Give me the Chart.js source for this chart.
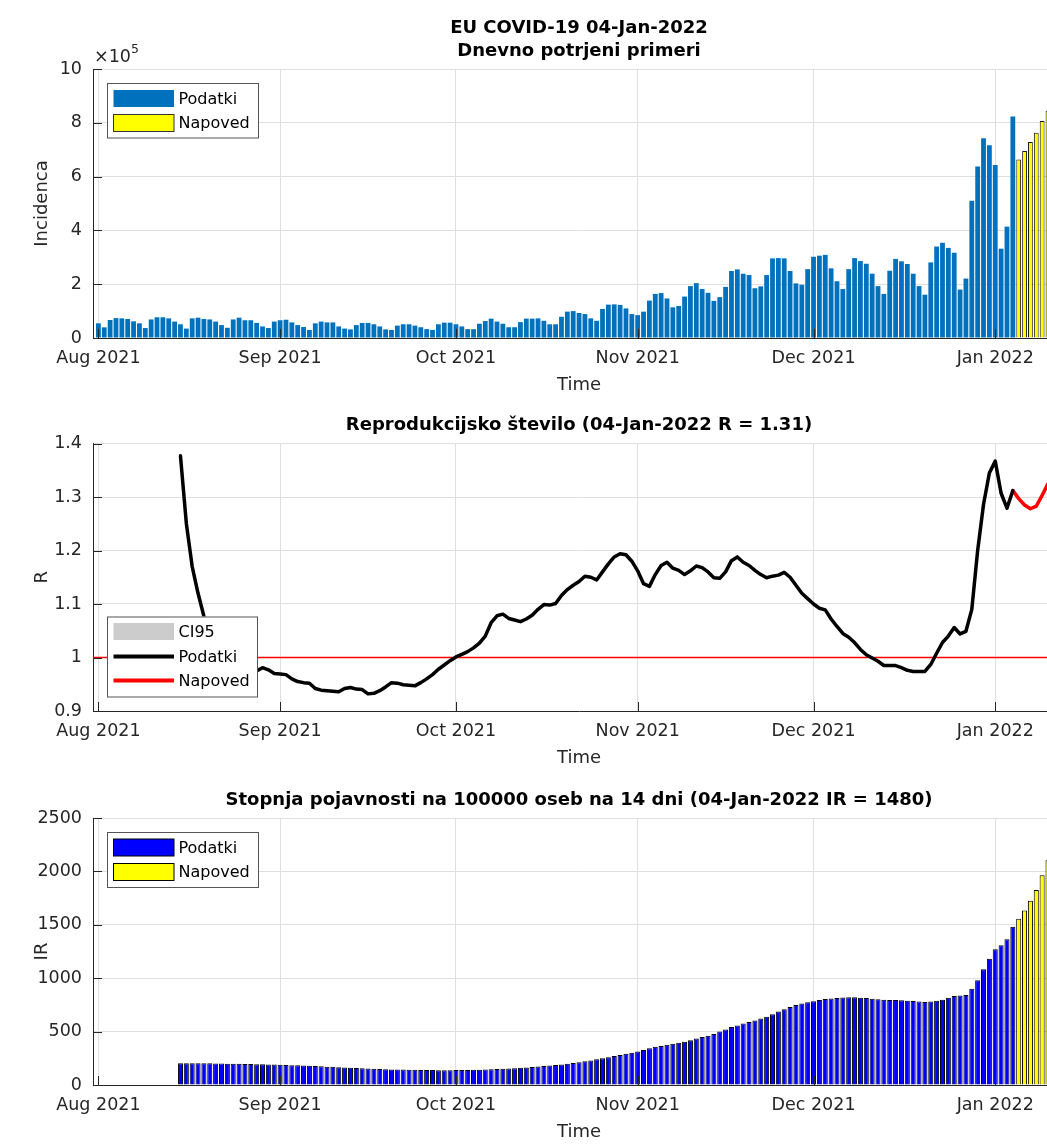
<!DOCTYPE html>
<html>
<head>
<meta charset="utf-8">
<script src="https://cdn.jsdelivr.net/npm/chart.js@4.4.1/dist/chart.umd.min.js"></script>
<style>
  html, body { margin: 0; padding: 0; background: #fff; overflow: hidden; }
  body { width: 1047px; height: 1146px; position: relative; }
  canvas { position: absolute; left: 0; display: block; }
</style>
</head>
<body>
<canvas id="casesChart" width="1065" height="395" style="top:0"></canvas>
<canvas id="rChart" width="1065" height="375" style="top:395px"></canvas>
<canvas id="irChart" width="1065" height="376" style="top:770px"></canvas>
<script>
// x axis is "days since 1 Aug 2021"
const monthTicks = [0, 31, 61, 92, 122, 153];
const monthLabels = ['Aug 2021', 'Sep 2021', 'Oct 2021', 'Nov 2021', 'Dec 2021', 'Jan 2022'];
const dayMin = -0.92;
const dayMax = 164.9;

// daily confirmed cases, 1 Aug 2021 .. 4 Jan 2022
const casesStart = 0;
const cases = [
  54500, 39600, 67000, 74000, 73000, 70600, 62000, 54500, 37000, 69000,
  77000, 77000, 73000, 61000, 51000, 35000, 73000, 75600, 70600, 69000,
  61000, 48000, 38000, 69000, 75600, 66000, 66000, 56000, 43000, 37000,
  61000, 66000, 68000, 58000, 48000, 41000, 30000, 54500, 61000, 58000,
  58000, 43000, 35000, 32000, 48000, 56000, 56000, 51000, 43000, 32000,
  30000, 46000, 51000, 51000, 46000, 40000, 33000, 30000, 51000, 57000,
  57000, 51000, 43000, 33000, 33000, 53000, 63000, 72000, 61000, 53000,
  40000, 40000, 59000, 72000, 72000, 73000, 64000, 51000, 51000, 79000,
  98000, 100000, 93000, 89000, 73000, 64000, 108000, 124000, 125000, 123000,
  110000, 89000, 85000, 98000, 139000, 164000, 167000, 147000, 114000, 119000,
  154000, 193000, 204000, 182000, 168000, 138000, 152000, 190000, 249000, 255000,
  239000, 234000, 185000, 192000, 234000, 296000, 297000, 296000, 249000, 203000,
  198000, 256000, 302000, 306000, 309000, 259000, 211000, 182000, 256000, 297000,
  286000, 276000, 239000, 193000, 164000, 250000, 294000, 285000, 275000, 239000,
  193000, 161000, 281000, 340000, 354000, 335000, 317000, 180000, 221000, 510000,
  638000, 743000, 717000, 643000, 332000, 414000, 823000
];
const casesForecastStart = 157;
const casesForecast = [664000, 695000, 729000, 763000, 807000, 845000, 880000, 915000];

// reproduction number R, from 15 Aug 2021
const rStart = 14;
const rValues = [
  1.377, 1.251, 1.170, 1.120, 1.077, 1.045, 1.020, 1.005, 0.995, 0.988,
  0.984, 0.981, 0.979, 0.975, 0.981, 0.977, 0.970, 0.969, 0.968, 0.960,
  0.955, 0.953, 0.952, 0.942, 0.939, 0.938, 0.937, 0.936, 0.942, 0.944,
  0.941, 0.940, 0.932, 0.933, 0.938, 0.945, 0.953, 0.952, 0.949, 0.948,
  0.947, 0.953, 0.960, 0.968, 0.978, 0.986, 0.994, 1.001, 1.006, 1.011,
  1.018, 1.027, 1.040, 1.065, 1.078, 1.081, 1.073, 1.070, 1.067, 1.072,
  1.079, 1.090, 1.099, 1.098, 1.101, 1.116, 1.127, 1.135, 1.142, 1.152,
  1.150, 1.145, 1.160, 1.175, 1.188, 1.194, 1.192, 1.180, 1.162, 1.138,
  1.133, 1.155, 1.172, 1.178, 1.167, 1.163, 1.155, 1.162, 1.171, 1.168,
  1.160, 1.149, 1.148, 1.160, 1.181, 1.188, 1.178, 1.172, 1.163, 1.155,
  1.149, 1.152, 1.154, 1.159, 1.150, 1.135, 1.120, 1.110, 1.100, 1.092,
  1.089, 1.072, 1.058, 1.045, 1.038, 1.028, 1.015, 1.005, 0.999, 0.993,
  0.985, 0.985, 0.985, 0.981, 0.976, 0.974, 0.974, 0.974, 0.987, 1.008,
  1.028, 1.040, 1.056, 1.044, 1.049, 1.090, 1.200, 1.286, 1.345, 1.367,
  1.307, 1.279, 1.312
];
const rForecastStart = 156;
const rForecast = [1.312, 1.297, 1.285, 1.278, 1.283, 1.303, 1.325, 1.342, 1.356];
const rThreshold = 1;

// 14-day incidence per 100000, from 15 Aug 2021
const irStart = 14;
const irValues = [
  203, 204, 204, 204, 203, 203, 202, 201, 200, 199,
  198, 197, 196, 195, 194, 193, 192, 190, 188, 186,
  184, 182, 180, 178, 175, 172, 170, 167, 165, 162,
  159, 157, 155, 152, 150, 148, 146, 145, 144, 143,
  142, 141, 140, 140, 139, 139, 139, 140, 140, 141,
  142, 143, 145, 147, 149, 152, 155, 158, 161, 165,
  169, 173, 177, 182, 187, 193, 200,
  207, 214, 222, 230, 240, 250, 261, 272, 282, 292,
  303, 314, 328, 345, 357, 366, 377, 387, 396, 406,
  418, 435, 450, 462, 478, 500, 520, 542, 558, 575,
  590, 604, 622, 640, 662, 688, 710, 730, 748, 762,
  774, 784, 795, 806, 811, 815, 819, 821, 821, 818,
  814, 808, 803, 799, 797, 796, 793, 789, 786, 782,
  778, 782, 790, 798, 818, 833, 838, 842, 902, 980,
  1083, 1183, 1270, 1308, 1364, 1482
];
const irForecastStart = 157;
const irForecast = [1557, 1635, 1726, 1826, 1963, 2104, 2230, 2350];

const toPoints = (arr, start) => arr.map((v, i) => ({ x: start + i, y: v }));

const axisColor = '#262626';
const gridColor = '#dfdfdf';
const tickFont = { family: 'DejaVu Sans', size: 17.5 };

function timeAxis(h) {
  return {
    type: 'linear', min: dayMin, max: dayMax, offset: false,
    afterBuildTicks: s => { s.ticks = monthTicks.map(v => ({ value: v })); },
    afterFit: s => { s.height = h; },
    grid: { color: gridColor, drawTicks: false, offset: false },
    border: { color: axisColor },
    ticks: {
      font: tickFont, color: axisColor, padding: 9.5, maxRotation: 0, autoSkip: false,
      callback: v => monthLabels[monthTicks.indexOf(v)]
    }
  };
}

function valueAxis(min, max, step, fmt) {
  return {
    type: 'linear', min: min, max: max,
    afterFit: s => { s.width = 93; },
    grid: { color: gridColor, drawTicks: false },
    border: { color: axisColor },
    ticks: { stepSize: step, font: tickFont, color: axisColor, padding: 11, callback: fmt }
  };
}

// MATLAB-like decorations: inward ticks, titles, axis labels, boxed legend
const decoPlugin = {
  id: 'deco',
  afterDraw(chart, args, o) {
    const ctx = chart.ctx, a = chart.chartArea;
    const xs = chart.scales.x, ys = chart.scales.y;
    ctx.save();
    ctx.strokeStyle = axisColor;
    ctx.lineWidth = 1;
    ctx.beginPath();
    xs.ticks.forEach(t => {
      const px = Math.round(xs.getPixelForValue(t.value)) + 0.5;
      ctx.moveTo(px, a.bottom); ctx.lineTo(px, a.bottom - 9);
    });
    ys.ticks.forEach(t => {
      const py = Math.round(ys.getPixelForValue(t.value)) + 0.5;
      ctx.moveTo(a.left, py); ctx.lineTo(a.left + 9, py);
    });
    ctx.stroke();

    const cx = (a.left + a.right) / 2;
    ctx.textAlign = 'center';
    ctx.textBaseline = 'middle';
    ctx.fillStyle = '#000';
    ctx.font = 'bold 18px "DejaVu Sans"';
    o.titles.forEach(t => ctx.fillText(t.text, cx, t.y));

    ctx.fillStyle = axisColor;
    ctx.font = '18px "DejaVu Sans"';
    ctx.fillText('Time', cx, a.bottom + 47);
    ctx.save();
    ctx.translate(42, (a.top + a.bottom) / 2);
    ctx.rotate(-Math.PI / 2);
    ctx.fillText(o.yLabel, 0, 0);
    ctx.restore();

    if (o.exponent) {
      ctx.textAlign = 'left';
      ctx.font = '17.5px "DejaVu Sans"';
      ctx.fillText('\u00d710', a.left + 1, a.top - 12);
      const w = ctx.measureText('\u00d710').width;
      ctx.font = '12.5px "DejaVu Sans"';
      ctx.fillText('5', a.left + 1 + w, a.top - 19);
    }

    const L = o.legend;
    ctx.fillStyle = '#fff';
    ctx.fillRect(L.x, L.y, L.w, L.h);
    ctx.strokeStyle = '#555';
    ctx.strokeRect(L.x + 0.5, L.y + 0.5, L.w, L.h);
    L.items.forEach(it => {
      if (it.kind === 'box') {
        ctx.fillStyle = it.fill;
        ctx.fillRect(L.x + 6.5, it.y - 8.5, 60.5, 17);
        if (it.edge) {
          ctx.strokeStyle = it.edge;
          ctx.strokeRect(L.x + 6.5, it.y - 8.5, 60.5, 17);
        }
      } else {
        ctx.strokeStyle = it.fill;
        ctx.lineWidth = 4;
        ctx.beginPath();
        ctx.moveTo(L.x + 6.5, it.y); ctx.lineTo(L.x + 67, it.y);
        ctx.stroke();
        ctx.lineWidth = 1;
      }
      ctx.fillStyle = '#000';
      ctx.textAlign = 'left';
      ctx.font = '16px "DejaVu Sans"';
      ctx.fillText(it.text, L.x + 71.5, it.y + 1);
    });
    ctx.restore();
  }
};

const common = {
  responsive: false,
  animation: false,
  plugins: { legend: { display: false }, tooltip: { enabled: false } }
};

new Chart(document.getElementById('casesChart'), {
  type: 'bar',
  data: {
    datasets: [
      { label: 'Podatki', data: toPoints(cases, casesStart), backgroundColor: '#0072BD',
        borderWidth: 0, grouped: false, barPercentage: 0.82, categoryPercentage: 1 },
      { label: 'Napoved', data: toPoints(casesForecast, casesForecastStart), backgroundColor: '#FFFF00',
        borderColor: '#1a1a1a', borderWidth: 1, grouped: false, barPercentage: 0.82, categoryPercentage: 1 }
    ]
  },
  options: Object.assign({}, common, {
    layout: { padding: { top: 69, left: 0, right: 0, bottom: 0 } },
    scales: {
      x: timeAxis(57),
      y: valueAxis(0, 1000000, 200000, v => String(v / 100000))
    },
    plugins: Object.assign({}, common.plugins, {
      deco: {
        titles: [{ text: 'EU COVID-19 04-Jan-2022', y: 28 }, { text: 'Dnevno potrjeni primeri', y: 51.5 }],
        yLabel: 'Incidenca',
        exponent: true,
        legend: { x: 107, y: 83, w: 151, h: 54.5, items: [
          { kind: 'box', fill: '#0072BD', text: 'Podatki', y: 98.5 },
          { kind: 'box', fill: '#FFFF00', edge: '#333', text: 'Napoved', y: 123 }
        ] }
      }
    })
  }),
  plugins: [decoPlugin]
});

new Chart(document.getElementById('rChart'), {
  type: 'line',
  data: {
    datasets: [
      { label: 'Podatki', data: toPoints(rValues, rStart), borderColor: '#000000', borderWidth: 3.5,
        pointRadius: 0, borderJoinStyle: 'round', borderCapStyle: 'round', order: 1 },
      { label: 'Napoved', data: toPoints(rForecast, rForecastStart), borderColor: '#FF0000', borderWidth: 3.5,
        pointRadius: 0, borderJoinStyle: 'round', borderCapStyle: 'round', order: 2 },
      { label: 'R = 1', data: [{ x: dayMin, y: rThreshold }, { x: dayMax, y: rThreshold }],
        borderColor: 'rgb(255, 0, 0)', backgroundColor: 'rgb(255, 0, 0)', borderWidth: 1.4,
        pointRadius: 0, order: 3 }
    ]
  },
  options: Object.assign({}, common, {
    layout: { padding: { top: 48.5, left: 0, right: 0, bottom: 0 } },
    scales: {
      x: timeAxis(59),
      y: valueAxis(0.9, 1.4, 0.1, v => String(Math.round(v * 10) / 10))
    },
    plugins: Object.assign({}, common.plugins, {
      deco: {
        titles: [{ text: 'Reprodukcijsko \u0161tevilo (04-Jan-2022 R = 1.31)', y: 30.5 }],
        yLabel: 'R',
        legend: { x: 107, y: 221.5, w: 150, h: 80, items: [
          { kind: 'box', fill: '#cccccc', text: 'CI95', y: 236.5 },
          { kind: 'line', fill: '#000', text: 'Podatki', y: 261.5 },
          { kind: 'line', fill: '#FF0000', text: 'Napoved', y: 285.5 }
        ] }
      }
    })
  }),
  plugins: [decoPlugin]
});

new Chart(document.getElementById('irChart'), {
  type: 'bar',
  data: {
    datasets: [
      { label: 'Podatki', data: toPoints(irValues, irStart), backgroundColor: '#0000FF',
        borderColor: '#000', borderWidth: 1, grouped: false, barPercentage: 0.86, categoryPercentage: 1 },
      { label: 'Napoved', data: toPoints(irForecast, irForecastStart), backgroundColor: '#FFFF00',
        borderColor: '#000', borderWidth: 1, grouped: false, barPercentage: 0.86, categoryPercentage: 1 }
    ]
  },
  options: Object.assign({}, common, {
    layout: { padding: { top: 48, left: 0, right: 0, bottom: 0 } },
    scales: {
      x: timeAxis(61),
      y: valueAxis(0, 2500, 500, v => String(v))
    },
    plugins: Object.assign({}, common.plugins, {
      deco: {
        titles: [{ text: 'Stopnja pojavnosti na 100000 oseb na 14 dni (04-Jan-2022 IR = 1480)', y: 30 }],
        yLabel: 'IR',
        legend: { x: 107, y: 62, w: 151, h: 55, items: [
          { kind: 'box', fill: '#0000FF', edge: '#000', text: 'Podatki', y: 77.5 },
          { kind: 'box', fill: '#FFFF00', edge: '#000', text: 'Napoved', y: 102 }
        ] }
      }
    })
  }),
  plugins: [decoPlugin]
});
</script>
</body>
</html>
